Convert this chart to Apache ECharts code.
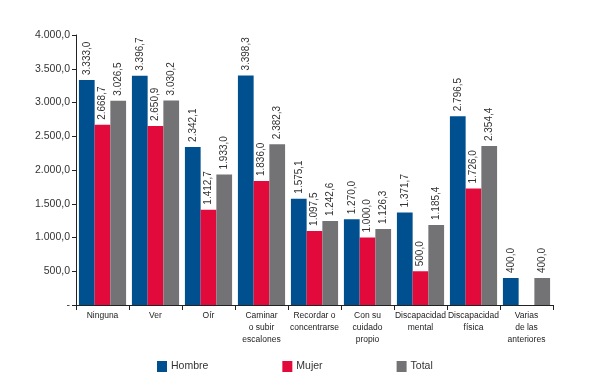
<!DOCTYPE html>
<html>
<head>
<meta charset="utf-8">
<script src="https://cdn.jsdelivr.net/npm/echarts@6/dist/echarts.min.js"></script>
<style>html,body{margin:0;padding:0;background:#fff;}#c{width:600px;height:391px;}</style>
</head>
<body>
<div id="c"></div>
<script>
var categories = ["Ninguna", "Ver", "Oír", "Caminar\no subir\nescalones", "Recordar o\nconcentrarse", "Con su\ncuidado\npropio", "Discapacidad\nmental", "Discapacidad\nfísica", "Varias\nde las\nanteriores"];
var hombre = [3333.0, 3396.7, 2342.1, 3398.3, 1575.1, 1270.0, 1371.7, 2796.5, 400.0];
var mujer = [2668.7, 2650.9, 1412.7, 1836.0, 1097.5, 1000.0, 500.0, 1726.0, null];
var total = [3026.5, 3030.2, 1933.0, 2382.3, 1242.6, 1126.3, 1185.4, 2354.4, 400.0];
var seriesNames = ["Hombre", "Mujer", "Total"];
var yTicks = {min: 0, max: 4000, interval: 500};

function fmt(v) {
  var s = Number(v).toFixed(1);
  var parts = s.split(".");
  var intPart = parts[0].replace(/\B(?=(\d{3})+(?!\d))/g, ".");
  return intPart + "," + parts[1];
}

var font = "'Liberation Sans', Arial, sans-serif";
var colors = ["#00508F", "#E20A3A", "#737376"];

function mkSeries(name, data, color) {
  return {
    name: name,
    type: "bar",
    data: data,
    barGap: "0%",
    barCategoryGap: "11%",
    itemStyle: {color: color},
    label: {
      show: true,
      position: "top",
      rotate: 90,
      align: "left",
      verticalAlign: "middle",
      distance: 5,
      fontFamily: font,
      fontSize: 10,
      color: "#333",
      formatter: function (p) { return p.value == null ? "" : fmt(p.value); }
    }
  };
}

var chart = echarts.init(document.getElementById("c"), null, {renderer: "canvas"});
chart.setOption({
  animation: false,
  textStyle: {fontFamily: font},
  grid: {left: 76, right: 47, top: 35, bottom: 86, containLabel: false},
  legend: {
    data: seriesNames,
    left: 152,
    top: 356,
    itemWidth: 10,
    itemHeight: 11,
    itemGap: 74,
    icon: "rect",
    textStyle: {fontFamily: font, fontSize: 10.5, color: "#333", padding: [0, 0, 0, -1]}
  },
  xAxis: {
    type: "category",
    data: categories,
    axisLine: {lineStyle: {color: "#222", width: 1}},
    axisTick: {show: true, interval: 0, length: 5, lineStyle: {color: "#222"}},
    axisLabel: {
      interval: 0,
      margin: 5,
      fontFamily: font,
      fontSize: 8.5,
      lineHeight: 12,
      color: "#222"
    }
  },
  yAxis: {
    type: "value",
    min: yTicks.min,
    max: yTicks.max,
    interval: yTicks.interval,
    splitLine: {show: false},
    axisLine: {show: true, lineStyle: {color: "#222", width: 1}},
    axisTick: {show: true, length: 4, lineStyle: {color: "#222"}},
    axisLabel: {
      margin: 6,
      fontFamily: font,
      fontSize: 10.5,
      color: "#333",
      formatter: function (v) { return v === 0 ? "-" : fmt(v); }
    }
  },
  series: [
    mkSeries(seriesNames[0], hombre, colors[0]),
    mkSeries(seriesNames[1], mujer, colors[1]),
    mkSeries(seriesNames[2], total, colors[2])
  ]
});
</script>
</body>
</html>
